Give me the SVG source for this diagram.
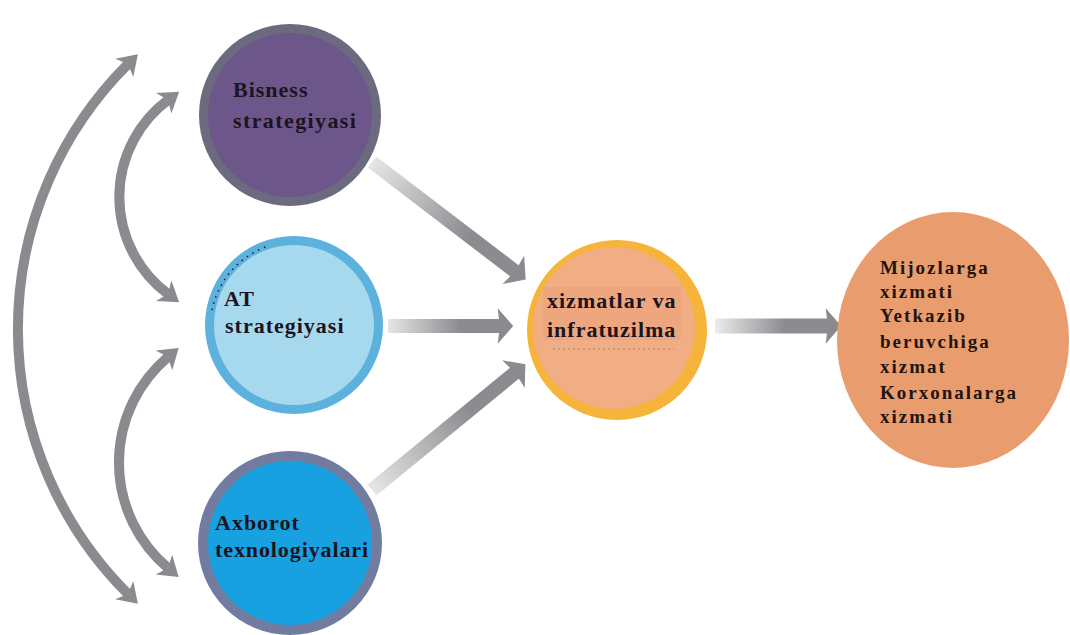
<svg xmlns="http://www.w3.org/2000/svg" width="1070" height="635" viewBox="0 0 1070 635">
<style>
.lbl{font-family:"Liberation Serif","Times New Roman",serif;font-weight:bold;font-size:22px;fill:#1c1420;letter-spacing:1px}
.rt{font-family:"Liberation Serif","Times New Roman",serif;font-weight:bold;font-size:19px;fill:#24140e;letter-spacing:2px}
.arc{fill:none;stroke:#8b8b8f;stroke-width:10}
</style>
<defs>
<marker id="headC" markerUnits="userSpaceOnUse" markerWidth="30" markerHeight="30" viewBox="-2 -14 22 28" refX="5" refY="0" orient="auto-start-reverse">
<path d="M0 -12 L18 0 L0 12 L5 0 Z" fill="#8b8b8f"/>
</marker>
<marker id="headS" markerUnits="userSpaceOnUse" markerWidth="30" markerHeight="40" viewBox="-2 -18 20 36" refX="3" refY="0" orient="auto">
<path d="M0 -16 L14 0 L0 16 L2 0 Z" fill="#8a8a8f"/>
</marker>
<linearGradient id="g1" gradientUnits="userSpaceOnUse" x1="372" y1="162" x2="470" y2="236"><stop offset="0" stop-color="#e6e6e8"/><stop offset="1" stop-color="#8c8c90"/></linearGradient>
<linearGradient id="g2" gradientUnits="userSpaceOnUse" x1="388" y1="326" x2="460" y2="326"><stop offset="0" stop-color="#e6e6e8"/><stop offset="1" stop-color="#8c8c90"/></linearGradient>
<linearGradient id="g3" gradientUnits="userSpaceOnUse" x1="372" y1="490" x2="470" y2="410"><stop offset="0" stop-color="#e6e6e8"/><stop offset="1" stop-color="#8c8c90"/></linearGradient>
<linearGradient id="g4" gradientUnits="userSpaceOnUse" x1="715" y1="326" x2="785" y2="326"><stop offset="0" stop-color="#ececee"/><stop offset="1" stop-color="#8c8c90"/></linearGradient>
</defs>
<rect width="1070" height="635" fill="#ffffff"/>

<g id="connectors">
<path class="arc" d="M128 64 A374 374 0 0 0 128 594" marker-start="url(#headC)" marker-end="url(#headC)"/>
<path class="arc" d="M168 100 A121 121 0 0 0 168 294" marker-start="url(#headC)" marker-end="url(#headC)"/>
<path class="arc" d="M168 357 A138 138 0 0 0 168 568" marker-start="url(#headC)" marker-end="url(#headC)"/>
<line x1="372" y1="162" x2="516" y2="272" stroke="url(#g1)" stroke-width="14" marker-end="url(#headS)"/>
<line x1="388" y1="326" x2="501" y2="326" stroke="url(#g2)" stroke-width="14" marker-end="url(#headS)"/>
<line x1="372" y1="490" x2="516" y2="372" stroke="url(#g3)" stroke-width="14" marker-end="url(#headS)"/>
<line x1="715" y1="326" x2="829" y2="326" stroke="url(#g4)" stroke-width="15" marker-end="url(#headS)"/>
</g>

<g id="node-bisness">
<circle cx="290" cy="115" r="91" fill="#6b6a7e"/>
<circle cx="290" cy="115" r="82" fill="#6d5689"/>
<text class="lbl" x="233" y="97">Bisness</text>
<text class="lbl" x="233" y="128" style="letter-spacing:1.4px">strategiyasi</text>
</g>

<g id="node-at">
<circle cx="294" cy="325" r="89" fill="#5cb2dc"/>
<circle cx="294" cy="325" r="80" fill="#a7d9ee"/>
<path d="M212 310 A86 86 0 0 1 268 246" fill="none" stroke="#1c1420" stroke-width="1.5" stroke-dasharray="1.5 5"/>
<text class="lbl" x="224" y="306">AT</text>
<text class="lbl" x="225" y="333">strategiyasi</text>
</g>

<g id="node-axborot">
<circle cx="290" cy="543" r="92" fill="#727ca0"/>
<circle cx="290" cy="543" r="82" fill="#17a1e0"/>
<text class="lbl" x="215" y="530">Axborot</text>
<text class="lbl" x="215" y="557" style="letter-spacing:0.9px">texnologiyalari</text>
</g>

<g id="node-xizmatlar">
<circle cx="617" cy="330" r="90" fill="#f6b43a"/>
<circle cx="614" cy="328" r="81" fill="#f1ad84"/>
<rect x="543" y="287" width="138" height="53" fill="#eba17a" opacity="0.6"/>
<line x1="553" y1="349" x2="674" y2="349" stroke="#b08070" stroke-width="1" stroke-dasharray="2 3"/>
<text class="lbl" x="547" y="308">xizmatlar va</text>
<text class="lbl" x="547" y="337">infratuzilma</text>
</g>

<g id="node-mijozlar">
<ellipse cx="953" cy="340" rx="116" ry="128" fill="#e99d6f"/>
<text class="rt" x="880" y="274">Mijozlarga</text>
<text class="rt" x="880" y="298">xizmati</text>
<text class="rt" x="880" y="322">Yetkazib</text>
<text class="rt" x="880" y="348">beruvchiga</text>
<text class="rt" x="880" y="373">xizmat</text>
<text class="rt" x="880" y="399">Korxonalarga</text>
<text class="rt" x="880" y="423">xizmati</text>
</g>
</svg>
